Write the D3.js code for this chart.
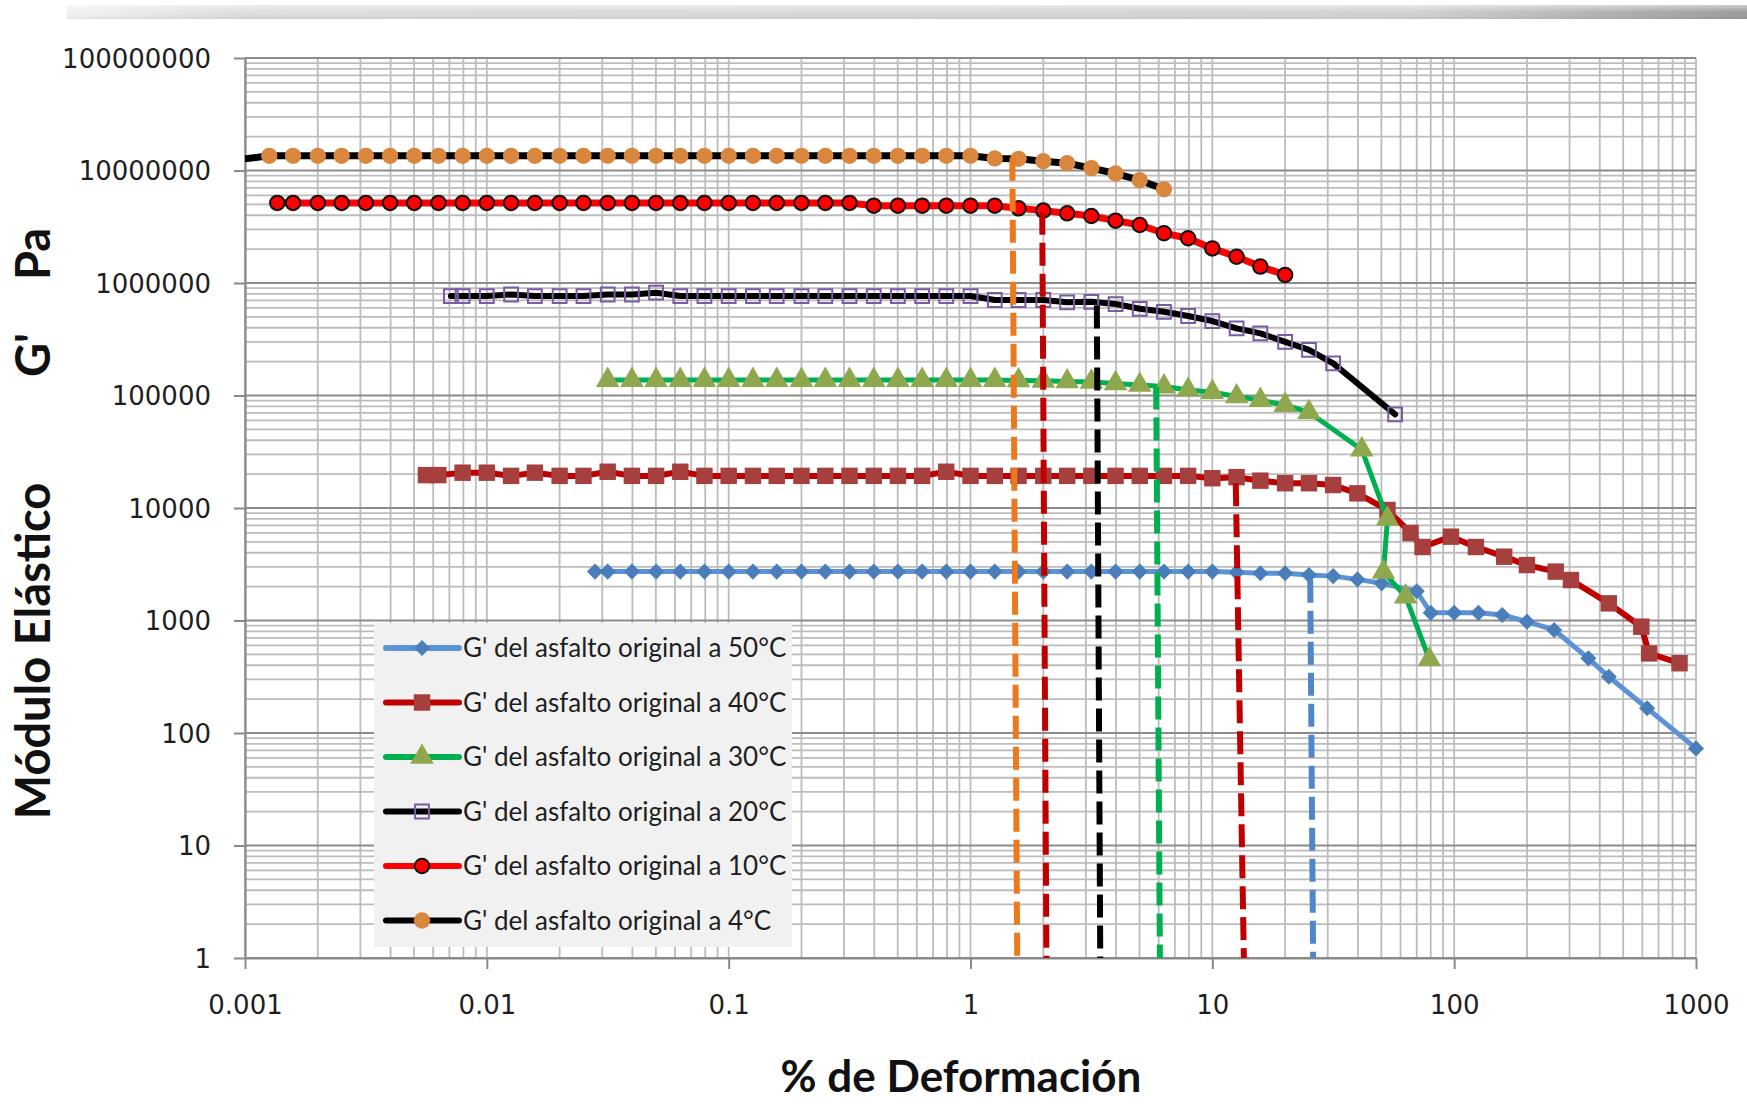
<!DOCTYPE html>
<html>
<head>
<meta charset="utf-8">
<script src="https://d3js.org/d3.v7.min.js"></script>
<style>
body { margin: 0; background: #fff; }
</style>
</head>
<body>
<script>
// ---- data ----
var xMajor = [0.001, 0.01, 0.1, 1, 10, 100, 1000];
var xTickLabels = ["0.001", "0.01", "0.1", "1", "10", "100", "1000"];
var yMajor = [1, 10, 100, 1000, 10000, 100000, 1000000, 10000000, 100000000];
var yTickLabels = ["1", "10", "100", "1000", "10000", "100000", "1000000", "10000000", "100000000"];

var seriesNames = [
  "G' del asfalto original a 50°C",
  "G' del asfalto original a 40°C",
  "G' del asfalto original a 30°C",
  "G' del asfalto original a 20°C",
  "G' del asfalto original a 10°C",
  "G' del asfalto original a 4°C"
];

// 50°C
var strain50 = [0.028, 0.0316, 0.0398, 0.0501, 0.0631, 0.0794,
  0.1, 0.126, 0.158, 0.2, 0.251, 0.316, 0.398, 0.501, 0.631, 0.794,
  1, 1.26, 1.58, 2, 2.51, 3.16, 3.98, 5.01, 6.31, 7.94,
  10, 12.6, 15.8, 20, 25.1, 31.6, 39.8, 50.1,
  70, 80, 100, 126, 158, 200, 259, 359, 436, 628, 1000];
var g50 = [2720, 2720, 2720, 2720, 2720, 2720,
  2720, 2720, 2720, 2720, 2720, 2720, 2720, 2720, 2720, 2720,
  2720, 2720, 2720, 2720, 2720, 2720, 2720, 2720, 2720, 2720,
  2720, 2680, 2630, 2630, 2540, 2480, 2320, 2140,
  1820, 1170, 1170, 1170, 1120, 977, 824, 461, 316, 166, 73];

// 40°C
var strain40 = [0.0056, 0.0063, 0.00794,
  0.01, 0.0126, 0.0158, 0.02, 0.0251, 0.0316, 0.0398, 0.0501, 0.0631, 0.0794,
  0.1, 0.126, 0.158, 0.2, 0.251, 0.316, 0.398, 0.501, 0.631, 0.794,
  1, 1.26, 1.58, 2, 2.51, 3.16, 3.98, 5.01, 6.31, 7.94,
  10, 12.6, 15.8, 20, 25.1, 31.6, 39.8,
  53, 66, 74, 97, 123, 161, 200, 263, 304, 436, 594, 640, 855];
var g40 = [19600, 19600, 20600,
  20600, 19300, 20600, 19300, 19300, 21000, 19300, 19300, 21000, 19300,
  19300, 19300, 19300, 19300, 19300, 19300, 19300, 19300, 19300, 21000,
  19300, 19300, 19300, 19300, 19300, 19300, 19300, 19300, 19300, 19300,
  18400, 18800, 17500, 16600, 16600, 16000, 13500,
  9600, 6000, 4500, 5560, 4500, 3690, 3110, 2720, 2290, 1420, 881, 510, 417];

// 30°C
var strain30 = [0.0316, 0.0398, 0.0501, 0.0631, 0.0794,
  0.1, 0.126, 0.158, 0.2, 0.251, 0.316, 0.398, 0.501, 0.631, 0.794,
  1, 1.26, 1.58, 2, 2.51, 3.16, 3.98, 5.01, 6.31, 7.94,
  10, 12.6, 15.8, 20, 25.1,
  41.5, 53, 51, 63, 79];
var g30 = [137000, 137000, 137000, 137000, 137000,
  137000, 137000, 137000, 137000, 137000, 137000, 137000, 137000, 137000, 137000,
  137000, 137000, 136000, 135000, 133000, 132000, 128000, 124000, 120000, 112000,
  107000, 98000, 91000, 82000, 71000,
  33000, 8000, 2700, 1630, 450];

// 20°C
var strain20 = [0.0071, 0.00794,
  0.01, 0.0126, 0.0158, 0.02, 0.0251, 0.0316, 0.0398, 0.0501, 0.0631, 0.0794,
  0.1, 0.126, 0.158, 0.2, 0.251, 0.316, 0.398, 0.501, 0.631, 0.794,
  1, 1.26, 1.58, 2, 2.51, 3.16, 3.98, 5.01, 6.31, 7.94,
  10, 12.6, 15.8, 20, 25.1, 31.6, 57];
var g20 = [766000, 766000,
  766000, 790000, 766000, 766000, 766000, 790000, 790000, 820000, 766000, 766000,
  766000, 766000, 766000, 766000, 766000, 766000, 766000, 766000, 766000, 766000,
  766000, 706000, 706000, 706000, 673000, 680000, 650000, 590000, 555000, 509000,
  459000, 395000, 357000, 300000, 254000, 193000, 68000];

// 10°C
var strain10 = [0.00136, 0.00158, 0.002, 0.00251, 0.00316, 0.00398, 0.00501, 0.00631, 0.00794,
  0.01, 0.0126, 0.0158, 0.02, 0.0251, 0.0316, 0.0398, 0.0501, 0.0631, 0.0794,
  0.1, 0.126, 0.158, 0.2, 0.251, 0.316, 0.398, 0.501, 0.631, 0.794,
  1, 1.26, 1.58, 2, 2.51, 3.16, 3.98, 5.01, 6.31, 7.94,
  10, 12.6, 15.8, 20];
var g10 = [5150000, 5150000, 5150000, 5150000, 5150000, 5150000, 5150000, 5150000, 5150000,
  5150000, 5150000, 5150000, 5150000, 5150000, 5150000, 5150000, 5150000, 5150000, 5150000,
  5150000, 5150000, 5150000, 5150000, 5150000, 5150000, 4870000, 4870000, 4870000, 4870000,
  4870000, 4870000, 4610000, 4400000, 4160000, 3940000, 3580000, 3280000, 2770000, 2500000,
  2030000, 1710000, 1400000, 1180000];

// 4°C
var strain4 = [0.0008, 0.00126, 0.00158, 0.002, 0.00251, 0.00316, 0.00398, 0.00501, 0.00631, 0.00794,
  0.01, 0.0126, 0.0158, 0.02, 0.0251, 0.0316, 0.0398, 0.0501, 0.0631, 0.0794,
  0.1, 0.126, 0.158, 0.2, 0.251, 0.316, 0.398, 0.501, 0.631, 0.794,
  1, 1.26, 1.58, 2, 2.51, 3.16, 3.98, 5.01, 6.31];
var g4 = [12000000, 13500000, 13500000, 13500000, 13500000, 13500000, 13500000, 13500000, 13500000, 13500000,
  13500000, 13500000, 13500000, 13500000, 13500000, 13500000, 13500000, 13500000, 13500000, 13500000,
  13500000, 13500000, 13500000, 13500000, 13500000, 13500000, 13500000, 13500000, 13500000, 13500000,
  13500000, 12800000, 12700000, 12100000, 11600000, 10500000, 9400000, 8200000, 6800000];

// dashed verticals (critical strain marks)
var dashStrainTop = [1.49, 1.98, 3.33, 5.86, 12.5, 25.4];
var dashStrainBottom = [1.56, 2.06, 3.44, 6.07, 13.5, 26.1];
var dashGTop = [13000000, 4300000, 630000, 120000, 16600, 2300];

// ---- styles ----
var seriesStyle = [
  {line: "#5b93d6", width: 5, marker: "diamond", fill: "#4a7ebb", stroke: "none"},
  {line: "#c00000", width: 6, marker: "square", fill: "#a5403e", stroke: "none"},
  {line: "#00b050", width: 5, marker: "triangle", fill: "#8fa84e", stroke: "none"},
  {line: "#000000", width: 6, marker: "openSquare", fill: "none", stroke: "#7b5ba3"},
  {line: "#ff0000", width: 7, marker: "circle", fill: "#ff0000", stroke: "#111"},
  {line: "#000000", width: 7, marker: "dot", fill: "#d9873e", stroke: "none"}
];
var dashColors = ["#ec7a1c", "#c00000", "#000000", "#00b050", "#c00000", "#4f87c8"];

var seriesData = [
  d3.zip(strain50, g50), d3.zip(strain40, g40), d3.zip(strain30, g30),
  d3.zip(strain20, g20), d3.zip(strain10, g10), d3.zip(strain4, g4)
];

// ---- chart ----
var w = 1747, h = 1106;
var pL = 245, pR = 1696, pT = 58, pB = 958;

var svg = d3.select("body").append("svg").attr("width", w).attr("height", h);
var defs = svg.append("defs");

var x = d3.scaleLog().domain([0.001, 1000]).range([pL, pR]);
var y = d3.scaleLog().domain([1, 100000000]).range([pB, pT]);

// top gray bar
var gh = defs.append("linearGradient").attr("id", "barH");
gh.append("stop").attr("offset", "0%").attr("stop-color", "#f2f2f2");
gh.append("stop").attr("offset", "10%").attr("stop-color", "#dedede");
gh.append("stop").attr("offset", "80%").attr("stop-color", "#d2d2d2");
gh.append("stop").attr("offset", "100%").attr("stop-color", "#9c9c9c");
var gv = defs.append("linearGradient").attr("id", "barV").attr("x1", 0).attr("y1", 0).attr("x2", 0).attr("y2", 1);
gv.append("stop").attr("offset", "0%").attr("stop-color", "#fff").attr("stop-opacity", 0.5);
gv.append("stop").attr("offset", "50%").attr("stop-color", "#fff").attr("stop-opacity", 0);
gv.append("stop").attr("offset", "100%").attr("stop-color", "#000").attr("stop-opacity", 0.06);
svg.append("rect").attr("x", 67).attr("y", 5).attr("width", w - 67).attr("height", 14).attr("fill", "url(#barH)");
svg.append("rect").attr("x", 67).attr("y", 5).attr("width", w - 67).attr("height", 14).attr("fill", "url(#barV)");

defs.append("clipPath").attr("id", "plotClip").append("rect")
  .attr("x", pL).attr("y", pT).attr("width", pR - pL).attr("height", pB - pT);
defs.append("clipPath").attr("id", "markClip").append("rect")
  .attr("x", pL - 6).attr("y", 0).attr("width", w - pL).attr("height", h);

// grid
var grid = svg.append("g");
grid.selectAll("line.gx").data(x.ticks()).join("line").attr("class", "gx")
  .attr("x1", function(d){ return x(d); }).attr("x2", function(d){ return x(d); })
  .attr("y1", pT).attr("y2", pB)
  .attr("stroke", "#bcbcbc").attr("stroke-width", 1.8);
grid.selectAll("line.gy").data(y.ticks()).join("line").attr("class", "gy")
  .attr("y1", function(d){ return y(d); }).attr("y2", function(d){ return y(d); })
  .attr("x1", pL).attr("x2", pR)
  .attr("stroke", function(d){ return yMajor.indexOf(d) >= 0 ? "#8c8c8c" : "#bcbcbc"; })
  .attr("stroke-width", function(d){ return yMajor.indexOf(d) >= 0 ? 2.2 : 1.8; });

// axes
var xAxis = svg.append("g").attr("transform", "translate(0," + pB + ")")
  .call(d3.axisBottom(x).tickValues(xMajor).tickFormat(function(d, i){ return xTickLabels[i]; })
    .tickSize(11).tickSizeOuter(0));
var yAxis = svg.append("g").attr("transform", "translate(" + pL + ",0)")
  .call(d3.axisLeft(y).tickValues(yMajor).tickFormat(function(d, i){ return yTickLabels[i]; })
    .tickSize(11).tickSizeOuter(0));
[xAxis, yAxis].forEach(function(a){
  a.select(".domain").attr("stroke", "#8a8a8a").attr("stroke-width", 2.2);
  a.selectAll(".tick line").attr("stroke", "#8a8a8a").attr("stroke-width", 2);
  a.selectAll(".tick text").attr("fill", "#1e1e1e")
    .style("font-family", "'DejaVu Sans', sans-serif").style("font-size", "26px");
});
xAxis.selectAll(".tick text").attr("y", 38).attr("dy", "0.71em");
yAxis.selectAll(".tick text").attr("x", -34).attr("dy", "0.36em");

// legend box
var legX = 374, legY = 623;
svg.append("rect").attr("x", legX).attr("y", legY).attr("width", 418).attr("height", 324).attr("fill", "#f1f1f1");

function markerPath(kind) {
  if (kind === "diamond") return d3.symbol().type(d3.symbolSquare).size(130)();
  if (kind === "square") return d3.symbol().type(d3.symbolSquare).size(270)();
  if (kind === "openSquare") return d3.symbol().type(d3.symbolSquare).size(190)();
  if (kind === "triangle") return d3.symbol().type(d3.symbolTriangle).size(240)();
  if (kind === "circle") return d3.symbol().type(d3.symbolCircle).size(165)();
  return d3.symbol().type(d3.symbolCircle).size(210)();
}
function drawMarker(g, kind, st, cx, cy) {
  var p = g.append("path").attr("d", markerPath(kind))
    .attr("transform", "translate(" + cx + "," + cy + ")" + (kind === "diamond" ? " rotate(45)" : ""))
    .attr("fill", st.fill);
  if (st.stroke !== "none") p.attr("stroke", st.stroke).attr("stroke-width", 2);
}

// series
var line = d3.line().x(function(d){ return x(d[0]); }).y(function(d){ return y(d[1]); });
seriesData.forEach(function(data, i){
  var st = seriesStyle[i];
  svg.append("path").attr("clip-path", "url(#plotClip)")
    .attr("d", line(data)).attr("fill", "none")
    .attr("stroke", st.line).attr("stroke-width", st.width)
    .attr("stroke-linejoin", "round").attr("stroke-linecap", "round");
  var mg = svg.append("g").attr("clip-path", "url(#markClip)");
  data.forEach(function(d){ drawMarker(mg, st.marker, st, x(d[0]), y(d[1])); });
});

// dashed verticals
dashStrainTop.forEach(function(s, i){
  svg.append("line")
    .attr("x1", x(s)).attr("y1", y(dashGTop[i]))
    .attr("x2", x(dashStrainBottom[i])).attr("y2", y(1))
    .attr("stroke", dashColors[i]).attr("stroke-width", 6)
    .attr("stroke-dasharray", "23,8");
});

// legend entries
seriesNames.forEach(function(name, i){
  var st = seriesStyle[i];
  var cy = 648 + i * 54.5;
  svg.append("line").attr("x1", 386).attr("x2", 459).attr("y1", cy).attr("y2", cy)
    .attr("stroke", st.line).attr("stroke-width", 6).attr("stroke-linecap", "round");
  drawMarker(svg, st.marker, st, 422, cy);
  svg.append("text").attr("x", 463).attr("y", cy).attr("dy", "0.36em")
    .style("font-family", "Lato, sans-serif").style("font-size", "26px")
    .attr("fill", "#1e1e1e").text(name);
});

// axis titles
svg.append("text").attr("x", 961).attr("y", 1092).attr("text-anchor", "middle")
  .style("font-family", "Lato, sans-serif").style("font-weight", "bold").style("font-size", "44px")
  .attr("fill", "#111").text("% de Deformación");

function yTitle(txt, cy) {
  svg.append("text").attr("transform", "translate(50," + cy + ") rotate(-90)")
    .attr("text-anchor", "middle")
    .style("font-family", "Lato, sans-serif").style("font-weight", "bold").style("font-size", "47px")
    .attr("fill", "#111").text(txt);
}
yTitle("Módulo Elástico", 651);
yTitle("G'", 355);
yTitle("Pa", 254);
</script>
</body>
</html>
